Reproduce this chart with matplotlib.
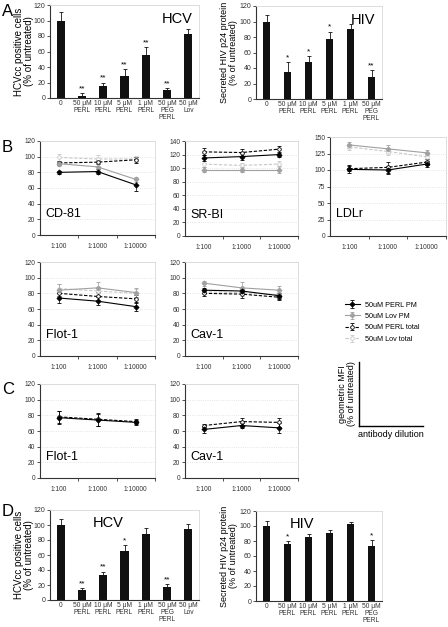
import numpy as np
import matplotlib.pyplot as plt

plt.rcParams['font.family'] = ['Liberation Sans', 'DejaVu Sans']

W, H = 448, 627

# ---- bar data (panels A and D) ----
hcv_labels = ['0', '50 μM\nPERL', '10 μM\nPERL', '5 μM\nPERL', '1 μM\nPERL', '50 μM\nPEG\nPERL', '50 μM\nLov']
hiv_labels = ['0', '50 μM\nPERL', '10 μM\nPERL', '5 μM\nPERL', '1 μM\nPERL', '50 μM\nPEG\nPERL']

hcv_a = [100, 3, 16, 29, 56, 10, 82]
hcv_a_err = [11, 3, 4, 8, 10, 3, 7]
hcv_a_star = ['', '**', '**', '**', '**', '**', '']
hiv_a = [100, 35, 48, 78, 90, 29]
hiv_a_err = [8, 13, 7, 9, 7, 8]
hiv_a_star = ['', '*', '*', '*', '', '**']

hcv_d = [100, 13, 33, 65, 88, 17, 95]
hcv_d_err = [8, 3, 5, 8, 8, 4, 7]
hcv_d_star = ['', '**', '**', '*', '', '**', '']
hiv_d = [100, 76, 86, 91, 103, 73]
hiv_d_err = [7, 4, 3, 4, 3, 8]
hiv_d_star = ['', '*', '', '', '', '*']

# ---- line data (panels B and C) ----
dilutions = ['1:100', '1:1000', '1:10000']
series_names = ['50uM PERL PM', '50uM Lov PM', '50uM PERL total', '50uM Lov total']

cd81 = [[80, 81, 64], [91, 87, 71], [92, 93, 96], [99, 97, 97]]
cd81_err = [[2, 3, 8], [3, 4, 3], [3, 3, 4], [4, 5, 4]]
srbi = [[115, 117, 120], [98, 98, 98], [124, 123, 128], [106, 104, 106]]
srbi_err = [[4, 5, 4], [3, 4, 5], [5, 5, 5], [4, 4, 4]]
ldlr = [[101, 100, 109], [138, 132, 126], [102, 104, 112], [135, 128, 120]]
ldlr_err = [[6, 6, 5], [4, 6, 4], [4, 8, 4], [5, 6, 5]]
flot_b = [[74, 70, 63], [84, 87, 81], [80, 76, 73], [86, 83, 80]]
flot_b_err = [[6, 5, 6], [8, 7, 6], [4, 6, 5], [6, 5, 5]]
cav_b = [[84, 83, 77], [93, 87, 84], [80, 79, 75], [82, 81, 78]]
cav_b_err = [[3, 3, 4], [3, 7, 6], [3, 5, 4], [3, 4, 4]]
flot_c = [[77, 74, 71], [78, 75, 72]]
flot_c_err = [[8, 8, 3], [8, 8, 3]]
cav_c = [[62, 67, 64], [67, 72, 71]]
cav_c_err = [[4, 3, 6], [2, 5, 6]]

styles = [
    dict(color='black', ls='-', marker='D', mfc='black', mec='black'),
    dict(color='#a0a0a0', ls='-', marker='D', mfc='#a0a0a0', mec='#a0a0a0'),
    dict(color='black', ls='--', marker='o', mfc='white', mec='black'),
    dict(color='#c8c8c8', ls='--', marker='o', mfc='white', mec='#c8c8c8'),
]

fig = plt.figure(figsize=(W / 100, H / 100), dpi=100)


def ax_px(x0, y0, x1, y1):
    return fig.add_axes([x0 / W, 1 - y1 / H, (x1 - x0) / W, (y1 - y0) / H])


def frame(ax):
    for s in ['top', 'right']:
        ax.spines[s].set_color('#d8d8d8')
        ax.spines[s].set_linewidth(0.6)
    for s in ['left', 'bottom']:
        ax.spines[s].set_color('#333333')
        ax.spines[s].set_linewidth(0.8)
    ax.tick_params(labelsize=5, length=2, width=0.6, colors='#333333', pad=1.5)


def bar_panel(box, labels, vals, errs, stars, title, tpos, ylabel, lx, lsize):
    ax = ax_px(*box)
    x = np.arange(len(vals))
    ax.bar(x, vals, width=0.38, color='#111111', zorder=2)
    ax.errorbar(x, vals, yerr=[np.zeros(len(vals)), errs], fmt='none',
                ecolor='#111111', elinewidth=0.6, capsize=1.5, capthick=0.6, zorder=3)
    for xi, v, e, s in zip(x, vals, errs, stars):
        if s:
            ax.text(xi, v + e + 1, s, ha='center', va='bottom', fontsize=6)
    ax.set_xlim(-0.5, len(vals) - 0.5)
    ax.set_ylim(0, 120)
    ax.set_yticks(range(0, 121, 20))
    ax.set_xticks(x)
    frame(ax)
    ax.set_xticklabels(labels, fontsize=4.8, linespacing=1.0)
    ax.tick_params(axis='x', length=0)
    ax.text(tpos[0], 0.93, title, transform=ax.transAxes, ha=tpos[1], va='top', fontsize=10.5)
    ax.set_ylabel(ylabel, fontsize=lsize, linespacing=1.0)
    ax.yaxis.set_label_coords(lx, 0.5)
    return ax


def line_panel(box, data, errs, ymax, ystep, name, idx=(0, 1, 2, 3)):
    ax = ax_px(*box)
    x = np.arange(3)
    for i in list(idx)[::-1]:
        st = styles[i]
        ax.errorbar(x, data[idx.index(i)], yerr=errs[idx.index(i)], color=st['color'],
                    ls=st['ls'], lw=0.8, marker=st['marker'], ms=2.6, mfc=st['mfc'],
                    mec=st['mec'], mew=0.6, elinewidth=0.5, capsize=1.3, capthick=0.5,
                    dashes=(3, 1.5) if st['ls'] == '--' else (None, None),
                    label=series_names[i], zorder=3)
    ax.set_xlim(-0.5, 2.5)
    ax.set_ylim(0, ymax)
    ax.set_yticks(np.arange(0, ymax + 1, ystep))
    ax.set_xticks(x)
    ax.set_xticklabels(dilutions)
    ax.set_xticks([0.5, 1.5, 2.5], minor=True)
    ax.grid(axis='y', color='#dddddd', ls=':', lw=0.6, zorder=0)
    frame(ax)
    ax.tick_params(labelsize=4.8)
    ax.tick_params(axis='x', which='major', length=0, pad=6)
    ax.tick_params(axis='x', which='minor', length=2, width=0.6, colors='#333333')
    ax.text(0.05, 0.22, name, transform=ax.transAxes, ha='left', va='center', fontsize=9)
    return ax


# panel A
bar_panel((50, 5, 199, 98), hcv_labels, hcv_a, hcv_a_err, hcv_a_star, 'HCV', (0.96, 'right'),
          'HCVcc positive cells\n(% of untreated)', -0.11, 7)
bar_panel((256, 6, 382, 99), hiv_labels, hiv_a, hiv_a_err, hiv_a_star, 'HIV', (0.95, 'right'),
          'Secreted HIV p24 protein\n(% of untreated)', -0.14, 6.5)

# panel B
ax_cd = line_panel((40, 141, 155, 235), cd81, cd81_err, 120, 20, 'CD-81')
line_panel((185, 141, 298, 236), srbi, srbi_err, 140, 20, 'SR-BI')
line_panel((330, 137, 446, 236), ldlr, ldlr_err, 150, 25, 'LDLr')
line_panel((40, 262, 155, 356), flot_b, flot_b_err, 120, 20, 'Flot-1')
line_panel((185, 262, 298, 356), cav_b, cav_b_err, 120, 20, 'Cav-1')

# panel C
line_panel((40, 384, 155, 478), flot_c, flot_c_err, 120, 20, 'Flot-1', idx=(0, 2))
line_panel((185, 384, 298, 478), cav_c, cav_c_err, 120, 20, 'Cav-1', idx=(0, 2))

# panel D
bar_panel((50, 510, 199, 600), hcv_labels, hcv_d, hcv_d_err, hcv_d_star, 'HCV', (0.29, 'left'),
          'HCVcc positive cells\n(% of untreated)', -0.11, 7)
bar_panel((256, 511, 382, 601), hiv_labels, hiv_d, hiv_d_err, hiv_d_star, 'HIV', (0.27, 'left'),
          'Secreted HIV p24 protein\n(% of untreated)', -0.14, 6.5)

# legend
handles, labs = ax_cd.get_legend_handles_labels()
order = [labs.index(n) for n in series_names]
fig.legend([handles[i] for i in order], [labs[i] for i in order],
           loc='upper left', bbox_to_anchor=(338 / W, 1 - 295 / H), frameon=False,
           fontsize=5.2, handlelength=2.2, labelspacing=0.6, handletextpad=0.6)

# schematic axes
sk = ax_px(359, 362, 423, 426)
sk.set_xticks([])
sk.set_yticks([])
for s in ['top', 'right']:
    sk.spines[s].set_visible(False)
for s in ['left', 'bottom']:
    sk.spines[s].set_linewidth(1.0)
sk.set_ylabel('geometric MFI\n(% of untreated)', fontsize=6.5, linespacing=1.0, labelpad=2)
sk.set_xlabel('antibody dilution', fontsize=6.5, labelpad=3)

# panel letters
for letter, (px, py) in {'A': (2, 12), 'B': (2, 147), 'C': (2, 390), 'D': (2, 512)}.items():
    fig.text(px / W, 1 - py / H, letter, fontsize=12, ha='left', va='center')

fig.savefig('out.png', dpi=100)
